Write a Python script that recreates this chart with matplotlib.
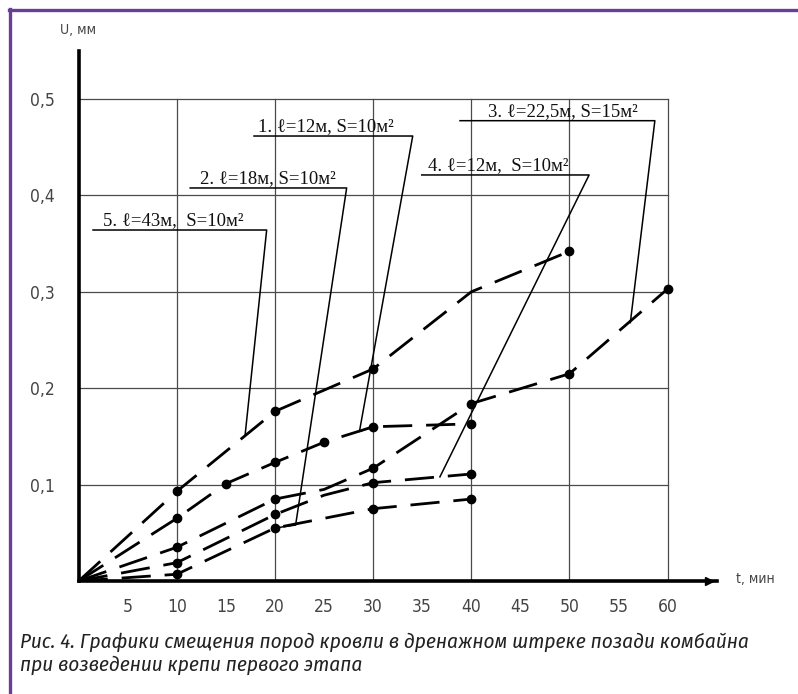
import matplotlib
matplotlib.use('Agg')
import matplotlib.pyplot as plt
from matplotlib.lines import Line2D

# curves: time (min) and displacement U (mm); marked = points drawn with dots
t1 = [0, 10, 20, 30, 40, 50]
u1 = [0, 0.093, 0.176, 0.220, 0.300, 0.342]
marked1 = [10, 20, 30, 50]

t2 = [0, 10, 15, 20, 25, 30, 40]
u2 = [0, 0.065, 0.101, 0.123, 0.144, 0.160, 0.163]
marked2 = [10, 15, 20, 25, 30, 40]

t3 = [0, 10, 20, 25, 30, 40, 50, 60]
u3 = [0, 0.035, 0.085, 0.095, 0.117, 0.184, 0.215, 0.303]
marked3 = [10, 20, 30, 40, 50, 60]

t4 = [0, 10, 20, 25, 30, 40]
u4 = [0, 0.019, 0.069, 0.089, 0.102, 0.111]
marked4 = [10, 20, 30, 40]

t5 = [0, 10, 20, 30, 40]
u5 = [0, 0.007, 0.055, 0.075, 0.085]
marked5 = [10, 20, 30, 40]

x_ticks = [5, 10, 15, 20, 25, 30, 35, 40, 45, 50, 55, 60]
y_ticks = [0.1, 0.2, 0.3, 0.4, 0.5]
y_tick_labels = ['0,1', '0,2', '0,3', '0,4', '0,5']

labels = ['1. ℓ=12м, S=10м²', '2. ℓ=18м, S=10м²', '3. ℓ=22,5м, S=15м²',
          '4. ℓ=12м,  S=10м²', '5. ℓ=43м,  S=10м²']

caption = ('Рис. 4. Графики смещения пород кровли в дренажном штреке позади комбайна\n'
           'при возведении крепи первого этапа')

# label layout: text x, underline x0, x1, underline y, leader path
label_layout = [
    (18.3, 17.86, 34.03, 0.4616, [(28.6, 0.155), (30, 0.160)]),
    (12.4, 11.36, 27.3, 0.4077, [(22.1, 0.058), (20, 0.055)]),
    (41.7, 38.85, 58.7, 0.4775, [(56.2, 0.268)]),
    (35.6, 34.95, 52.0, 0.4212, [(36.8, 0.108)]),
    (2.5, 1.46, 19.15, 0.3641, [(16.95, 0.151)]),
]

fig = plt.figure(figsize=(7.98, 6.94), dpi=100)
ax = fig.add_axes([78.7 / 798, 113 / 694, 638 / 798, 530.2 / 694])
ax.set_xlim(0, 65)
ax.set_ylim(0, 0.55)
ax.patch.set_alpha(0)

grid_kw = dict(color='#4a4a4a', lw=0.9, zorder=1)
for v in y_ticks:
    ax.plot([0, 60], [v, v], **grid_kw)
for t in range(10, 61, 10):
    ax.plot([t, t], [0, 0.5], **grid_kw)

curves = [(t1, u1, marked1), (t2, u2, marked2), (t3, u3, marked3),
          (t4, u4, marked4), (t5, u5, marked5)]
for t, u, marked in curves:
    ax.plot(t, u, color='black', lw=2.0, linestyle=(0, (10.5, 5)),
            solid_capstyle='butt', zorder=3)
    mu = [u[t.index(m)] for m in marked]
    ax.plot(marked, mu, 'o', color='black', ms=6, zorder=4)

for text, (tx, x0, x1, uy, path) in zip(labels, label_layout):
    ax.text(tx, uy + 0.005, text, fontsize=13.5, family='Liberation Serif',
            va='baseline', ha='left', color='#111', zorder=5)
    xs = [x0, x1] + [p[0] for p in path]
    ys = [uy, uy] + [p[1] for p in path]
    ax.plot(xs, ys, color='black', lw=1.1, zorder=5)

for side in ['top', 'right']:
    ax.spines[side].set_visible(False)
ax.spines['left'].set_linewidth(2.6)
ax.spines['bottom'].set_linewidth(2.6)
ax.plot([64.2], [0], marker='>', color='black', ms=6, clip_on=False, zorder=6)

ax.set_xticks(x_ticks)
ax.set_xticklabels([str(v) for v in x_ticks])
ax.set_yticks(y_ticks)
ax.set_yticklabels(y_tick_labels)
ax.tick_params(length=0, labelsize=12.5, colors='#444')
ax.tick_params(axis='x', pad=12)
ax.tick_params(axis='y', pad=17)
for lab in ax.get_xticklabels() + ax.get_yticklabels():
    lab.set_fontstretch('condensed')
    lab.set_family('DejaVu Sans')

ax.text(-1.9, 0.572, 'U, мм', fontsize=10, family='DejaVu Sans',
        fontstretch='condensed', color='#444', va='center', ha='left')
ax.text(67.0, 0.002, 't, мин', fontsize=10, family='DejaVu Sans',
        fontstretch='condensed', color='#444', va='center', ha='left', clip_on=False)

fig.text(20 / 798, 1 - 654 / 694, caption, fontsize=15.2, style='italic',
         family=['Fira Sans Condensed', 'DejaVu Sans'], color='#222',
         va='center', ha='left', linespacing=1.2)

purple = '#6a3d9a'
fig.add_artist(Line2D([9.5 / 798, 9.5 / 798], [0, 1 - 9 / 694], color=purple, lw=2.4))
fig.add_artist(Line2D([8.7 / 798, 1], [1 - 9.5 / 694, 1 - 9.5 / 694], color=purple, lw=2.4))

fig.savefig('out.png', dpi=100)
